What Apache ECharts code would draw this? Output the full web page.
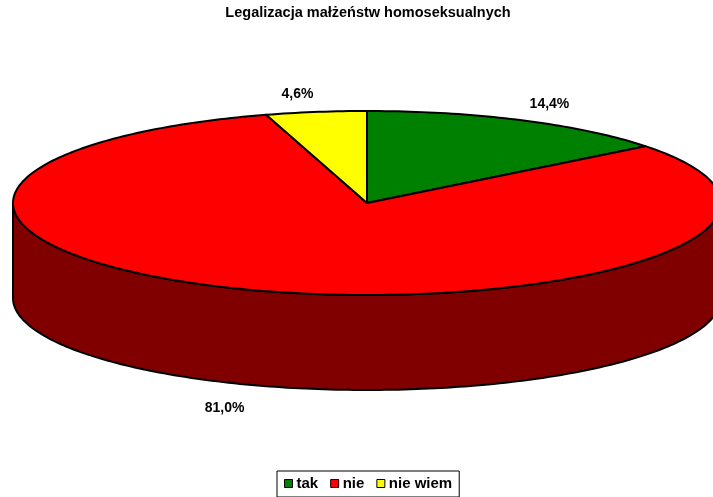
<!DOCTYPE html>
<html lang="pl">
<head>
    <meta charset="UTF-8">
    <title>Legalizacja małżeństw homoseksualnych</title>
    <script src="https://cdn.jsdelivr.net/npm/echarts@6/dist/echarts.min.js"></script>
    <style>
        body { margin: 0; background: #fff; }
    </style>
</head>
<body>
    <div id="main" style="width: 713px;height: 497px"></div>
    <script type="text/javascript">
        var categories = ['tak', 'nie', 'nie wiem'];
        var values = [14.4, 81.0, 4.6];
        var colors = ['#008000', '#FF0000', '#FFFF00'];
        var sideColors = ['#004000', '#800000', '#808000'];

        // ellipse geometry of the 3d disc
        var cx = 367, cy = 203, rx = 354, ry = 92, depth = 95;

        var total = 0;
        values.forEach(function (v) { total += v; });
        var starts = [];
        var acc = 0;
        values.forEach(function (v) {
            starts.push(acc / total * 360);
            acc += v;
        });

        function pt(deg, dy) {
            var r = deg * Math.PI / 180;
            return [cx + rx * Math.sin(r), cy - ry * Math.cos(r) + (dy || 0)];
        }

        function arc(a0, a1, dy) {
            var pts = [];
            var n = Math.max(2, Math.ceil(Math.abs(a1 - a0)));
            for (var k = 0; k <= n; k++) {
                pts.push(pt(a0 + (a1 - a0) * k / n, dy));
            }
            return pts;
        }

        function renderSide(params, api) {
            var a0 = api.value(0), a1 = api.value(1), idx = api.value(2);
            var s = Math.max(a0, 90), e = Math.min(a1, 270);
            if (e <= s) return;
            var pts = arc(s, e, 0).concat(arc(e, s, depth));
            return {
                type: 'polygon',
                shape: { points: pts },
                style: { fill: sideColors[idx], stroke: '#000', lineWidth: 2, lineJoin: 'round' }
            };
        }

        function renderTop(params, api) {
            var a0 = api.value(0), a1 = api.value(1), idx = api.value(2);
            var pts = [[cx, cy]].concat(arc(a0, a1, 0));
            var mid = (a0 + a1) / 2;
            var r = mid * Math.PI / 180;
            var sx = Math.sin(r), cz = Math.cos(r);
            var edge = pt(mid, cz < 0 ? depth : 0);
            var off = cz < 0 ? 24 : 18;
            var lx = edge[0] + sx * off, ly = edge[1] - cz * off;
            if (cz < 0) lx -= 8;
            return {
                type: 'group',
                children: [{
                    type: 'polygon',
                    shape: { points: pts },
                    style: { fill: colors[idx], stroke: '#000', lineWidth: 2, lineJoin: 'round' }
                }, {
                    type: 'text',
                    x: lx,
                    y: ly,
                    style: {
                        text: values[idx].toFixed(1).replace('.', ',') + '%',
                        font: 'bold 14px "Liberation Sans", Arial, sans-serif',
                        fill: '#000',
                        align: sx >= 0 ? 'left' : 'right',
                        verticalAlign: 'middle'
                    }
                }]
            };
        }

        var series = [];
        categories.forEach(function (name, i) {
            series.push({
                name: name + '_side',
                type: 'custom',
                coordinateSystem: 'none',
                renderItem: renderSide,
                silent: true,
                z: 1,
                data: [[starts[i], starts[i] + values[i] / total * 360, i]]
            });
        });
        categories.forEach(function (name, i) {
            series.push({
                name: name,
                type: 'custom',
                coordinateSystem: 'none',
                renderItem: renderTop,
                itemStyle: { color: colors[i] },
                z: 2,
                data: [[starts[i], starts[i] + values[i] / total * 360, i]]
            });
        });

        var option = {
            backgroundColor: '#fff',
            animation: false,
            title: {
                text: 'Legalizacja małżeństw homoseksualnych',
                left: 363,
                top: 0,
                textAlign: 'center',
                textStyle: {
                    fontFamily: '"Liberation Sans", Arial, sans-serif',
                    fontSize: 14.5,
                    fontWeight: 'bold',
                    color: '#000'
                }
            },
            legend: {
                data: categories,
                left: 277,
                top: 471,
                icon: 'rect',
                itemWidth: 8,
                itemHeight: 8,
                itemGap: 12,
                padding: [5, 7, 6, 7],
                borderColor: '#000',
                borderWidth: 1,
                itemStyle: { borderColor: '#000', borderWidth: 1 },
                textStyle: {
                    fontFamily: '"Liberation Sans", Arial, sans-serif',
                    fontSize: 15,
                    fontWeight: 'bold',
                    color: '#000',
                    padding: [0, 0, 0, -1]
                }
            },
            series: series
        };

        var myChart = echarts.init(document.getElementById('main'));
        myChart.setOption(option);
    </script>
</body>
</html>
